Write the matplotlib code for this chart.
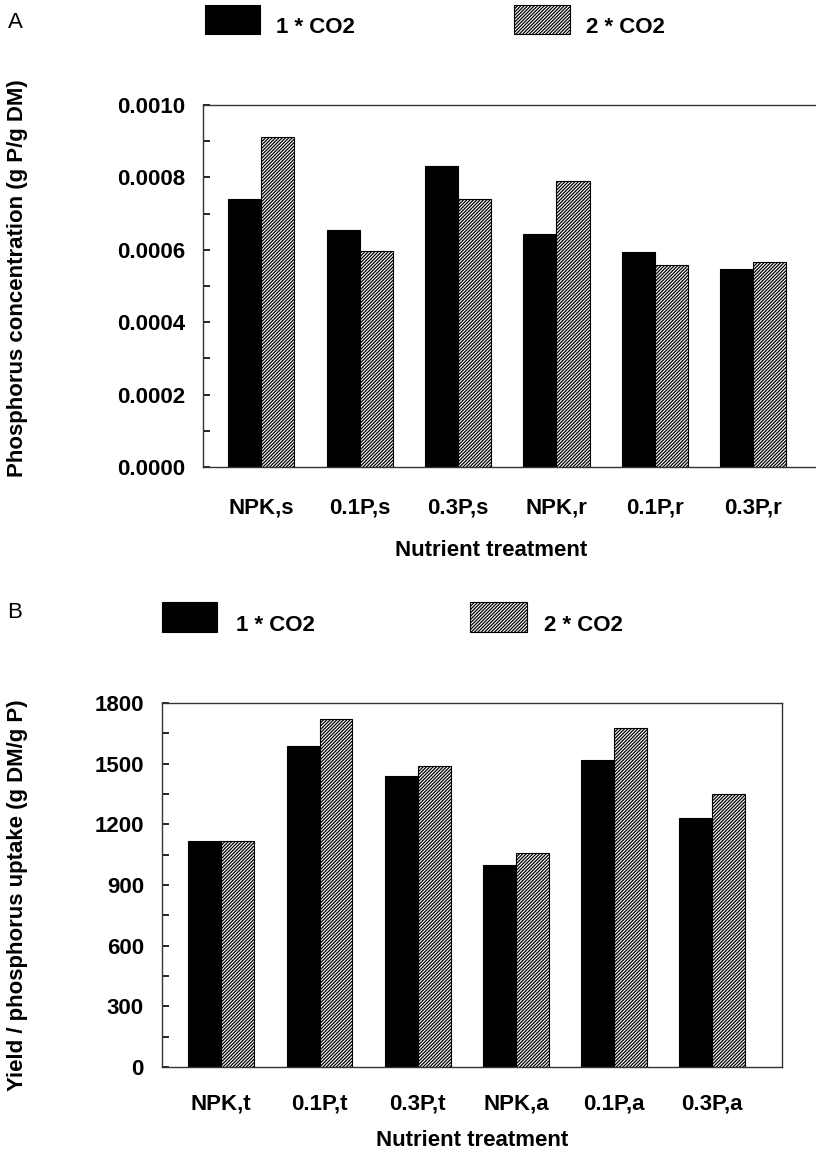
import numpy as np
import matplotlib
matplotlib.use("Agg")
import matplotlib.pyplot as plt
from matplotlib.patches import Rectangle

# values
labels_a = ["NPK,s", "0.1P,s", "0.3P,s", "NPK,r", "0.1P,r", "0.3P,r"]
p_conc_1co2 = [0.000740, 0.000655, 0.000831, 0.000645, 0.000595, 0.000547]
p_conc_2co2 = [0.000912, 0.000597, 0.000739, 0.000791, 0.000558, 0.000567]

labels_b = ["NPK,t", "0.1P,t", "0.3P,t", "NPK,a", "0.1P,a", "0.3P,a"]
yield_1co2 = [1118, 1585, 1441, 999, 1516, 1230]
yield_2co2 = [1118, 1722, 1488, 1057, 1674, 1349]

plt.rcParams["font.family"] = ["Liberation Sans", "DejaVu Sans"]
plt.rcParams["hatch.linewidth"] = 0.9

W, H = 816, 1160
fig = plt.figure(figsize=(W / 100, H / 100), dpi=100)


def px(x0, y0, x1, y1):
    # pixel box -> figure fraction rect
    return [x0 / W, 1 - y1 / H, (x1 - x0) / W, (y1 - y0) / H]


bw = 0.336
fs = 16


def panel(rect, labels, s1, s2, ylim, yticks, minor, fmt, xlim, xpad):
    ax = fig.add_axes(rect)
    x = np.arange(len(labels))
    ax.bar(x - bw / 2, s1, bw, color="black", edgecolor="black", linewidth=0.8)
    ax.bar(x + bw / 2, s2, bw, color="white", edgecolor="black",
           hatch="//////////", linewidth=0.8)
    ax.set_xlim(*xlim)
    ax.set_ylim(*ylim)
    ax.set_yticks(yticks)
    ax.set_yticks(minor, minor=True)
    ax.set_yticklabels([fmt.format(v) for v in yticks], fontsize=fs, fontweight="bold")
    ax.set_xticks(x)
    ax.set_xticklabels(labels, fontsize=fs, fontweight="bold")
    ax.tick_params(axis="y", which="both", direction="in", length=5, width=1.2, pad=13)
    ax.tick_params(axis="x", length=0, pad=xpad)
    for s in ax.spines.values():
        s.set_linewidth(1.0)
        s.set_color("#333333")
    return ax


ax_a = panel(px(203, 105, 825, 467), labels_a, p_conc_1co2, p_conc_2co2,
             (0, 0.0010), np.arange(0, 0.00101, 0.0002),
             np.arange(0, 0.00101, 0.0001), "{:.4f}", (-0.594, 5.73), 22)
ax_b = panel(px(162, 703, 782, 1067), labels_b, yield_1co2, yield_2co2,
             (0, 1800), np.arange(0, 1801, 300), np.arange(0, 1801, 150),
             "{:.0f}", (-0.604, 5.71), 19)

fig.text(491 / W, 1 - 550 / H, "Nutrient treatment", ha="center", va="center",
         fontsize=fs, fontweight="bold")
fig.text(472 / W, 1 - 1141 / H, "Nutrient treatment", ha="center", va="center",
         fontsize=fs, fontweight="bold")
fig.text(18 / W, 1 - 278 / H, "Phosphorus concentration (g P/g DM)", rotation=90,
         ha="center", va="center", fontsize=fs, fontweight="bold")
fig.text(18 / W, 1 - 895 / H, "Yield / phosphorus uptake (g DM/g P)", rotation=90,
         ha="center", va="center", fontsize=fs, fontweight="bold")

fig.text(15 / W, 1 - 22 / H, "A", ha="center", va="center", fontsize=fs)
fig.text(15 / W, 1 - 613 / H, "B", ha="center", va="center", fontsize=fs)


def legend_box(x0, y0, x1, y1, hatched, label, tx):
    r = Rectangle((x0 / W, 1 - y1 / H), (x1 - x0) / W, (y1 - y0) / H,
                  transform=fig.transFigure, facecolor="white" if hatched else "black",
                  edgecolor="black", linewidth=0.8, hatch="//////////" if hatched else None)
    fig.patches.append(r)
    fig.text(tx / W, 1 - (y1 - 1) / H, label, ha="left", va="baseline",
             fontsize=fs, fontweight="bold")


legend_box(205, 5, 260, 34, False, "1 * CO2", 276)
legend_box(514, 5, 570, 34, True, "2 * CO2", 586)
legend_box(162, 602, 217, 632, False, "1 * CO2", 236)
legend_box(470, 602, 527, 632, True, "2 * CO2", 544)

fig.savefig("out.png", dpi=100)
